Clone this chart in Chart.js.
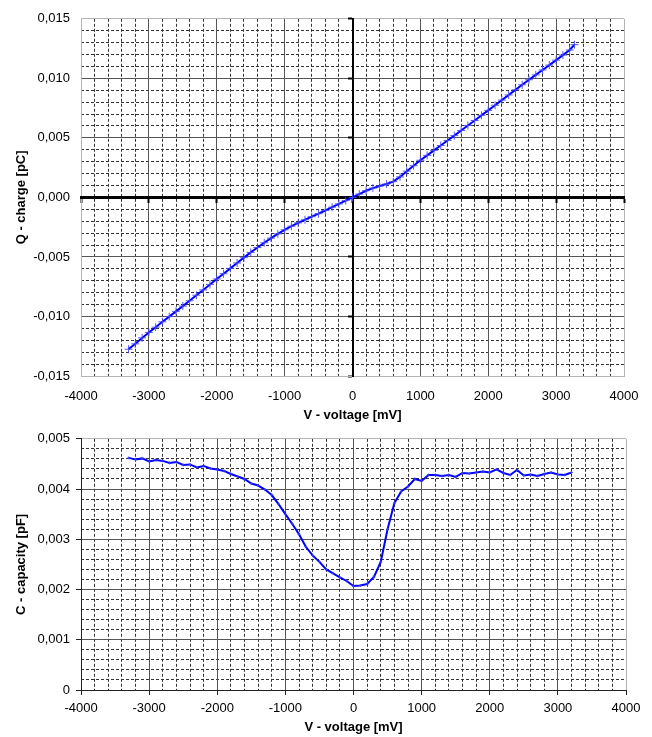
<!DOCTYPE html>
<html>
<head>
<meta charset="utf-8">
<script src="https://cdn.jsdelivr.net/npm/chart.js@4.4.1/dist/chart.umd.min.js"></script>
<style>
  html, body { margin: 0; padding: 0; background: #fff; }
  #wrap { position: relative; width: 652px; height: 737px; }
  canvas { position: absolute; left: 0; }
</style>
</head>
<body>
<div id="wrap">
  <canvas id="chargeChart" width="652" height="425" style="top:0"></canvas>
  <canvas id="capChart" width="652" height="312" style="top:425px"></canvas>
</div>
<script>
// === data ===
const voltQ = [
  -3300, -3200, -3100, -3000, -2900, -2800, -2700, -2600, -2500, -2400, -2300,
  -2200, -2100, -2000, -1900, -1800, -1700, -1600, -1500, -1400, -1300, -1200,
  -1100, -1000, -900, -800, -700, -600, -500, -400, -300, -200, -100, 0,
  100, 200, 300, 400, 500, 600, 700, 800, 900, 1000, 1100, 1200, 1300, 1400,
  1500, 1600, 1700, 1800, 1900, 2000, 2100, 2200, 2300, 2400, 2500, 2600,
  2700, 2800, 2900, 3000, 3100, 3200, 3270
];
const charge = [
  -0.01275, -0.01230, -0.01180, -0.01134, -0.01090, -0.01045, -0.01001, -0.00957, -0.00913, -0.00868, -0.00822,
  -0.00777, -0.00731, -0.00685, -0.00641, -0.00596, -0.00551, -0.00506, -0.00462, -0.00421, -0.00381, -0.00342,
  -0.00306, -0.00272, -0.00242, -0.00214, -0.00188, -0.00162, -0.00137, -0.00110, -0.00082, -0.00055, -0.00027, 0.00000,
  0.00028, 0.00056, 0.00078, 0.00096, 0.00112, 0.00132, 0.00172, 0.00220, 0.00266, 0.00312, 0.00353, 0.00395, 0.00436, 0.00478,
  0.00519, 0.00562, 0.00604, 0.00646, 0.00689, 0.00731, 0.00774, 0.00817, 0.00860, 0.00903, 0.00946, 0.00988,
  0.01029, 0.01070, 0.01111, 0.01153, 0.01195, 0.01238, 0.01283
];

const voltC = [
  -3300, -3200, -3100, -3000, -2900, -2800, -2700, -2600, -2500, -2400, -2300,
  -2200, -2100, -2000, -1900, -1800, -1700, -1600, -1500, -1400, -1300, -1200,
  -1100, -1000, -900, -800, -700, -600, -500, -400, -300, -200, -100, 0,
  100, 200, 300, 400, 500, 600, 700, 800, 900, 1000, 1100, 1200, 1300, 1400,
  1500, 1600, 1700, 1800, 1900, 2000, 2100, 2200, 2300, 2400, 2500, 2600,
  2700, 2800, 2900, 3000, 3100, 3200
];
const capacity = [
  0.00462, 0.00459, 0.00461, 0.00455, 0.00458, 0.00456, 0.00452, 0.00454, 0.00448, 0.00449, 0.00443,
  0.00446, 0.00441, 0.00439, 0.00436, 0.00430, 0.00425, 0.00420, 0.00411, 0.00407, 0.00399, 0.00388,
  0.00370, 0.00350, 0.00331, 0.00310, 0.00285, 0.00268, 0.00255, 0.00240, 0.00232, 0.00224, 0.00217, 0.00207,
  0.00208, 0.00211, 0.00225, 0.00255, 0.00320, 0.00372, 0.00395, 0.00405, 0.00420, 0.00416, 0.00428, 0.00428, 0.00426, 0.00428,
  0.00424, 0.00432, 0.00431, 0.00433, 0.00435, 0.00433, 0.00439, 0.00432, 0.00428, 0.00438, 0.00427, 0.00429,
  0.00426, 0.00430, 0.00433, 0.00429, 0.00428, 0.00433
];

const xRange = [-4000, 4000];
const qRange = [-0.015, 0.015];
const cRange = [0, 0.005];

const FONT = "'Liberation Sans', Arial, sans-serif";
const MAJOR = "#555";
const EDGE = "#b4b4b4";
const DOTS = "#333";

const onStep = (v, step) => Math.abs(v / step - Math.round(v / step)) < 1e-6;
const comma = (v) => (Math.abs(v) < 1e-12 ? "0,000" : v.toFixed(3).replace(".", ","));
const plain = (v) => String(Math.round(v));

// dotted minor grid on an invisible axis
function minorAxis(pos, min, max, step, major) {
  return {
    type: "linear", position: pos, min, max,
    afterFit: (s) => { if (pos === "left") s.width = 0; else s.height = 0; },
    ticks: { display: false, stepSize: step },
    grid: {
      color: (c) => (onStep(c.tick.value, major) ? "rgba(0,0,0,0)" : DOTS),
      drawTicks: false, z: -2, borderDash: [3, 2],
    },
    border: { display: false, dash: [3, 2] },
  };
}

function toPoints(xs, ys) {
  return xs.map((v, i) => ({ x: v, y: ys[i] }));
}

Chart.defaults.font.family = FONT;
Chart.defaults.color = "#000";

const common = {
  responsive: false,
  animation: false,
  plugins: { legend: { display: false }, tooltip: { enabled: false } },
};

// === top: Q - charge ===
new Chart(document.getElementById("chargeChart"), {
  type: "scatter",
  data: {
    datasets: [{
      data: toPoints(voltQ, charge),
      showLine: true,
      borderColor: "#0000ff",
      borderWidth: 2,
      pointStyle: "cross",
      pointRadius: 4,
      pointBorderColor: "rgba(70,70,255,0.9)",
      pointBorderWidth: 1,
    }],
  },
  options: {
    ...common,
    layout: { padding: { top: 13, right: 28, left: 0, bottom: 0 } },
    scales: {
      x: {
        type: "linear", position: "bottom", min: xRange[0], max: xRange[1],
        afterFit: (s) => { s.height = 49; },
        ticks: { stepSize: 1000, padding: 13, font: { size: 13 }, maxRotation: 0, callback: plain },
        grid: {
          color: (c) => (Math.abs(c.tick.value) === 4000 ? EDGE : MAJOR),
          drawTicks: false,
        },
        border: { color: EDGE, width: 1 },
        title: {
          display: true, text: "V - voltage [mV]",
          font: { size: 13, weight: "bold" }, padding: { top: 0, bottom: 2 },
        },
      },
      y: {
        type: "linear", position: "left", min: qRange[0], max: qRange[1],
        afterFit: (s) => { s.width = 81; },
        ticks: { stepSize: 0.005, padding: 11, font: { size: 13 }, callback: (v) => comma(v) },
        grid: {
          color: (c) => (Math.abs(Math.abs(c.tick.value) - 0.015) < 1e-9 ? EDGE : MAJOR),
          drawTicks: false,
        },
        border: { color: EDGE, width: 1 },
        title: {
          display: true, text: "Q - charge [pC]",
          font: { size: 13, weight: "bold" }, padding: { top: 14, bottom: 0 },
        },
      },
      xm: minorAxis("bottom", xRange[0], xRange[1], 200, 1000),
      ym: minorAxis("left", qRange[0], qRange[1], 0.001, 0.005),
      // axes crossing at zero
      x0: {
        type: "linear", position: { y: 0 }, min: xRange[0], max: xRange[1],
        ticks: { display: false, stepSize: 1000 },
        grid: { drawOnChartArea: false, tickLength: 4, tickWidth: 2, tickColor: "#000" },
        border: { color: "#000", width: 3 },
      },
      y0: {
        type: "linear", position: { x: 0 }, min: qRange[0], max: qRange[1],
        ticks: { display: false, stepSize: 0.005 },
        grid: { drawOnChartArea: false, tickLength: 4, tickWidth: 2, tickColor: "#000" },
        border: { color: "#000", width: 2 },
      },
    },
  },
});

// === bottom: C - capacity ===
new Chart(document.getElementById("capChart"), {
  type: "scatter",
  data: {
    datasets: [{
      data: toPoints(voltC, capacity),
      showLine: true,
      borderColor: "#0000ff",
      borderWidth: 2,
      pointStyle: "cross",
      pointRadius: 1.5,
      pointBorderColor: "rgba(60,60,255,0.8)",
      pointBorderWidth: 1,
    }],
  },
  options: {
    ...common,
    layout: { padding: { top: 8, right: 26, left: 0, bottom: 0 } },
    scales: {
      x: {
        type: "linear", position: "bottom", min: xRange[0], max: xRange[1],
        afterFit: (s) => { s.height = 47; },
        ticks: { stepSize: 1000, padding: 6, font: { size: 13 }, maxRotation: 0, callback: plain },
        grid: {
          color: (c) => (c.tick.value === 4000 ? EDGE : MAJOR),
          tickLength: 5, tickColor: "#222",
        },
        border: { color: "#222", width: 1 },
        title: {
          display: true, text: "V - voltage [mV]",
          font: { size: 13, weight: "bold" }, padding: { top: 0, bottom: 2 },
        },
      },
      y: {
        type: "linear", position: "left", min: cRange[0], max: cRange[1],
        afterFit: (s) => { s.width = 81; },
        ticks: {
          stepSize: 0.001, padding: 6, font: { size: 13 },
          callback: (v) => (Math.abs(v) < 1e-12 ? "0" : comma(v)),
        },
        grid: {
          color: (c) => (Math.abs(c.tick.value - 0.005) < 1e-9 ? EDGE : MAJOR),
          tickLength: 5, tickColor: "#222",
        },
        border: { color: "#222", width: 1 },
        title: {
          display: true, text: "C - capacity [pF]",
          font: { size: 13, weight: "bold" }, padding: { top: 14, bottom: 0 },
        },
      },
      xm: minorAxis("bottom", xRange[0], xRange[1], 200, 1000),
      ym: minorAxis("left", cRange[0], cRange[1], 0.0002, 0.001),
    },
  },
});
</script>
</body>
</html>
